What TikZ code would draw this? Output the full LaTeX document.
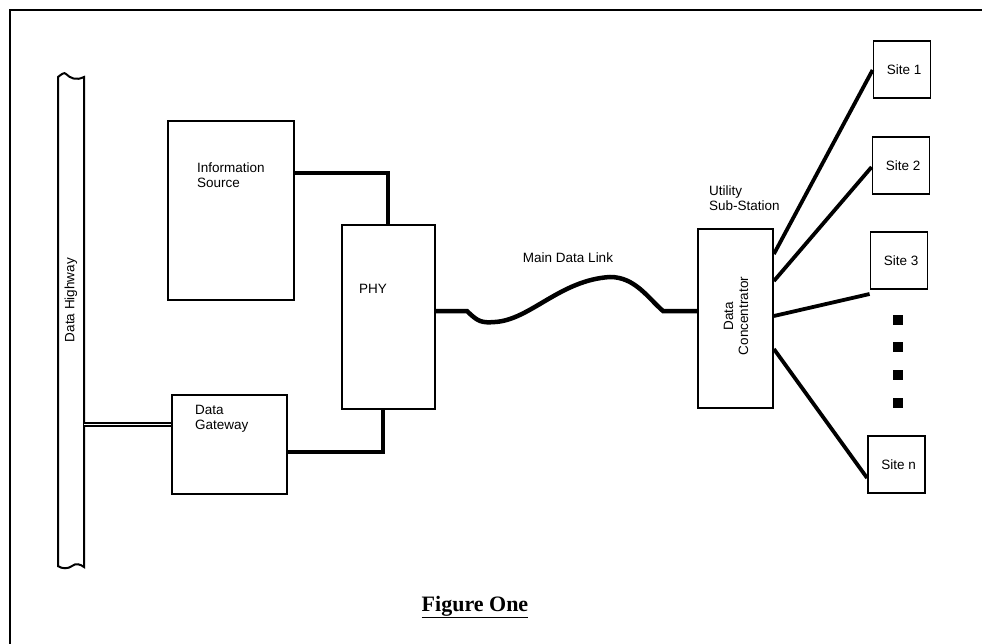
\documentclass[tikz,border=0pt]{standalone}
\usepackage{fontspec}
\setmainfont{Liberation Sans}
\newfontfamily\figfont{Liberation Serif}
\begin{document}
\begin{tikzpicture}[x=1pt,y=-1pt,
  box/.style={draw,line width=1.8pt,inner sep=0pt},
  lbl/.style={font=\fontsize{13.5}{15}\selectfont,align=left,inner sep=0pt},
  conn/.style={line width=4.5pt},
  sconn/.style={line width=3.8pt},
  sitebox/.style={box,minimum width=57pt,minimum height=57pt,font=\fontsize{13.5}{15}\selectfont},
  dotsq/.style={fill=black,minimum size=10pt,inner sep=0pt}]
\useasboundingbox (0,0) rectangle (982,644);
% frame
\draw[line width=2pt] (10,644) -- (10,10) -- (982,10);
% data highway
\draw[line width=2pt] (58,567) -- (58,77) .. controls (62,74) and (64,72) .. (66,74)
  .. controls (70,78) and (76,81) .. (84,77) -- (84,567)
  .. controls (80,564) and (76,563) .. (72,566) .. controls (68,569) and (62,569) .. (58,566);
\coordinate (hw) at (84,424.5);
\node[lbl,rotate=90] (hwt) at (71,300) {Data Highway};
% boxes
\node[box,minimum width=126pt,minimum height=179pt] (info) at (231,210.5) {};
\node[lbl,anchor=north west] (infot) at (197,163) {Information\\Source};
\node[box,minimum width=115pt,minimum height=99pt] (gw) at (229.5,444.5) {};
\node[lbl,anchor=north west] (gwt) at (195,405) {Data\\Gateway};
\node[box,minimum width=93pt,minimum height=184pt] (phy) at (388.5,317) {};
\node[lbl] (phyt) at (373,289) {PHY};
\node[box,minimum width=75pt,minimum height=179pt] (dc) at (735.5,318.5) {};
\node[lbl,rotate=90,align=center] (dct) at (736,316) {Data\\Concentrator};
\node[lbl,anchor=south west] (uss) at (709,211) {Utility\\Sub-Station};
% sites
\node[sitebox] (s1) at (902,69.5) {\hspace*{4pt}Site 1};
\node[sitebox] (s2) at (901,165.5) {\hspace*{4pt}Site 2};
\node[sitebox] (s3) at (899,260.5) {\hspace*{4pt}Site 3};
\node[sitebox] (sn) at (896.5,464.5) {\hspace*{4pt}Site n};
\node[dotsq] (d1) at (898,320) {};
\node[dotsq] (d2) at (898,347) {};
\node[dotsq] (d3) at (898,375) {};
\node[dotsq] (d4) at (898,403) {};
% connectors
\draw[conn] (info.east |- 0,173) -| (phy.north -| 388,0);
\draw[conn] (gw.east |- 0,452) -| (phy.south -| 383,0);
\draw[line width=1.6pt,double distance=1.6pt] (hw) -- (gw.west |- hw);
\draw[conn] (phy.east |- 0,311) -- (467,311) .. controls (478,322) and (482,323) .. (495,322)
  .. controls (530,320) and (560,280) .. (610,277)
  .. controls (635,277) and (648,298) .. (663,311) -- (dc.west |- 0,311);
\node[lbl] (mdl) at (568,258) {Main Data Link};
\draw[sconn] (dc.east |- 0,254) -- (s1.west |- 0,70);
\draw[sconn] (dc.east |- 0,281) -- (s2.west |- 0,167);
\draw[sconn] (dc.east |- 0,316) -- (s3.west |- 0,294);
\draw[sconn] (dc.east |- 0,349) -- (sn.west |- 0,478);
% caption
\node[font=\figfont\bfseries\fontsize{22}{24}\selectfont,inner sep=0pt] (cap) at (475,607) {\underline{Figure One}};
\end{tikzpicture}
\end{document}
